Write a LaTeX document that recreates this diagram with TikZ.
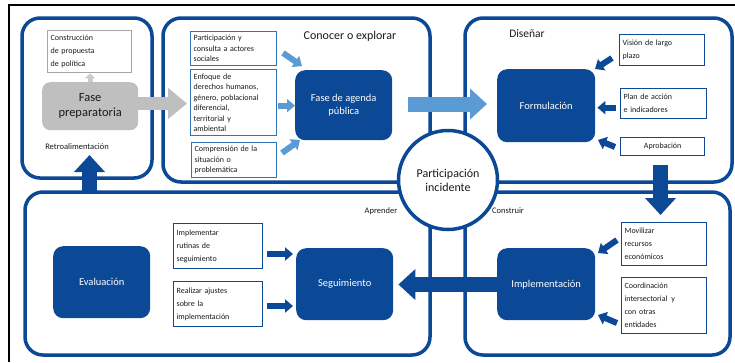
\documentclass[tikz,border=0pt]{standalone}
\usepackage{fontspec}
\setmainfont{Carlito}
\usetikzlibrary{arrows.meta}
\definecolor{dblue}{HTML}{0B4896}
\definecolor{lblue}{HTML}{5B9BD5}
\definecolor{mblue}{HTML}{2E75B6}
\definecolor{lgrey}{HTML}{BFBFBF}
\definecolor{bgrey}{HTML}{A6A6A6}
\definecolor{txt}{HTML}{1A1A1A}
\begin{document}
\begin{tikzpicture}[x=1pt,y=-1pt,
  panel/.style={draw=dblue, line width=3.5pt, rounded corners=18pt},
  tbox/.style={draw=dblue, line width=1.3pt, fill=white, anchor=north west, align=left, inner sep=3pt, text=txt, font=\fontsize{8}{13}\selectfont},
  mbox/.style={tbox, draw=mblue, font=\fontsize{8}{10.5}\selectfont},
  bigbox/.style={fill=dblue, rounded corners=10pt, anchor=north west, text=white, align=center, font=\fontsize{10.5}{13}\selectfont},
  lbl/.style={text=txt, inner sep=0pt},
  larr/.style={draw=lblue, line width=6pt, -{Triangle[length=8pt,width=13pt]}},
  darr/.style={draw=dblue, line width=6pt, -{Triangle[length=8pt,width=13pt]}},
  blockarr/.style={line width=15pt, -{Triangle[length=17pt,width=30pt]}}
]
\useasboundingbox (0,0) rectangle (735,362);
\fill[white] (0,0) rectangle (735,362);
% outer frame
\draw[black, line width=2pt] (9,362) -- (9,5) -- (735,5);

% panels
\draw[panel] (22,18) rectangle (152,178);
\draw[panel] (163,18) rectangle (430,182);
\draw[panel] (465,18) rectangle (732,182);
\draw[panel] (25,192) rectangle (430,355);
\draw[panel] (465,192) rectangle (730,355);

% top-left panel
\node[tbox, draw=bgrey, minimum width=83pt, minimum height=42pt, text width=78pt] (constr) at (47,30) {Construcción\\de propuesta\\de política};
\node[fill=lgrey, rounded corners=8pt, anchor=north west, minimum width=96pt, minimum height=48pt, align=center, text=txt, font=\fontsize{12.5}{15}\selectfont] (fasep) at (42,82) {Fase\\preparatoria};
\draw[draw=lgrey!80, line width=5pt, -{Triangle[length=5pt,width=10pt]}] (fasep.north -| 90,0) -- (constr.south -| 90,0);
\node[lbl, font=\fontsize{8.5}{10}\selectfont] (retro) at (77,147) {Retroalimentación};

% middle panel
\node[lbl, font=\fontsize{12}{14}\selectfont] (conocer) at (350,36) {Conocer o explorar};
\node[mbox, minimum width=85pt, minimum height=34pt, text width=80pt] (p1) at (190,31) {Participación y\\consulta a actores\\sociales};
\node[mbox, minimum width=85pt, minimum height=66pt, text width=80pt] (p2) at (190,69) {Enfoque de\\derechos humanos,\\género, poblacional\\diferencial,\\territorial y\\ambiental};
\node[mbox, minimum width=84pt, minimum height=35pt, text width=79pt] (p3) at (191,142) {Comprensión de la\\situación o\\problemática};
\node[bigbox, minimum width=97pt, minimum height=70pt] (fap) at (295,70) {Fase de agenda\\pública};
\coordinate (a1s) at (283,53); \coordinate (a1e) at (302,66);
\coordinate (a3s) at (282,153); \coordinate (a3e) at (300,140);
\draw[larr] (a1s) -- (a1e);
\draw[larr] ([yshift=-3pt]p2.east) ++(1pt,0) -- ([yshift=-3pt]p2.east -| fap.west) ;
\draw[larr] (a3s) -- (a3e);

% grey arrow
\coordinate (gs) at (138,103.5); \coordinate (ge) at (187,103.5);
\draw[draw=lgrey, line width=13pt, -{Triangle[length=19pt,width=30pt]}] (gs) -- (ge);

% right panel
\node[lbl, font=\fontsize{11.5}{13}\selectfont] (disenar) at (527,34) {Diseñar};
\node[bigbox, minimum width=98pt, minimum height=73pt] (form) at (497,69) {Formulación};
\node[tbox, minimum width=84pt, minimum height=31pt, text width=79pt] (vis) at (619,34) {Visión de largo\\plazo};
\node[tbox, minimum width=85pt, minimum height=30pt, text width=80pt] (plan) at (620,88) {Plan de acción\\e indicadores};
\node[tbox, minimum width=83pt, minimum height=18pt, align=center, text width=78pt] (aprob) at (620,137) {Aprobación};
\coordinate (b1s) at (612,58); \coordinate (b1e) at (595,69);
\coordinate (b3s) at (615,147); \coordinate (b3e) at (598,140);
\draw[darr] (b1s) -- (b1e);
\draw[darr] ([yshift=-4pt]plan.west) ++(-4pt,0) -- ([yshift=-4pt,xshift=2pt]plan.west -| form.east);
\draw[darr] (b3s) -- (b3e);

% big light-blue arrow
\draw[blockarr, draw=lblue, shorten <=16pt, shorten >=10pt] (fap.east |- 0,104) -- (form.west |- 0,104);

% down arrow
\coordinate (ds) at (660.5,165); \coordinate (de) at (660.5,215);
\draw[blockarr, draw=dblue] (ds) -- (de);

% center circle
\node[circle, draw=dblue, line width=3.5pt, fill=white, minimum size=99pt, align=center, text=txt, font=\fontsize{12}{14}\selectfont] (part) at (448,180) {Participación\\incidente};

% bottom right
\node[lbl, font=\fontsize{8.5}{10}\selectfont] (constru) at (508,211) {Construir};
\node[bigbox, minimum width=98pt, minimum height=72pt] (impl) at (497,248) {Implementación};
\node[tbox, minimum width=84pt, minimum height=43pt, text width=79pt] (mov) at (621,222) {Movilizar\\recursos\\económicos};
\node[tbox, minimum width=84pt, minimum height=56pt, text width=79pt] (coord) at (621,277) {Coordinación\\intersectorial\, y\\con otras\\entidades};
\coordinate (c1s) at (617,240); \coordinate (c1e) at (598,253);
\coordinate (c2s) at (617,323); \coordinate (c2e) at (598,315);
\draw[darr] (c1s) -- (c1e);
\draw[darr] (c2s) -- (c2e);

% bottom left
\node[lbl, font=\fontsize{8.5}{10}\selectfont] (aprender) at (381,211) {Aprender};
\node[bigbox, minimum width=97pt, minimum height=72pt] (eval) at (53,246) {Evaluación};
\node[tbox, minimum width=88pt, minimum height=45pt, text width=83pt] (rut) at (173,223) {Implementar\\rutinas de\\seguimiento};
\node[tbox, minimum width=88pt, minimum height=45pt, text width=83pt] (ajus) at (173,281) {Realizar ajustes\\sobre la\\implementación};
\node[bigbox, minimum width=97pt, minimum height=72pt] (seg) at (296,248) {Seguimiento};
\draw[darr] (rut.east |- 0,254) ++(4pt,0) -- ([xshift=-3pt]seg.west |- 0,254);
\draw[darr] (ajus.east |- 0,306) ++(4pt,0) -- ([xshift=-3pt]seg.west |- 0,306);

% implementation -> seguimiento
\draw[blockarr, draw=dblue, shorten >=5pt] (impl.west |- 0,284.5) -- (seg.east |- 0,284.5);

% retro arrow
\coordinate (rs) at (89.5,192); \coordinate (re) at (89.5,155);
\draw[blockarr, draw=dblue] (rs) -- (re);
\end{tikzpicture}
\end{document}
